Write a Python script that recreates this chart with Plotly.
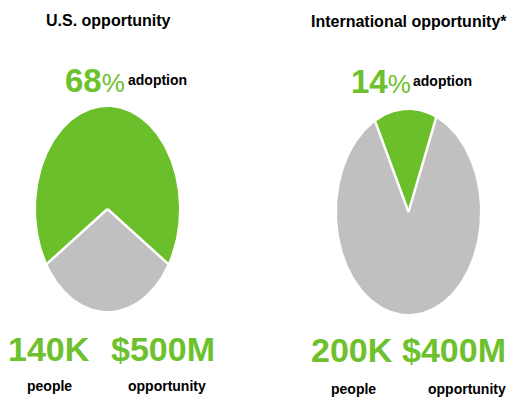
import numpy as np
import plotly.graph_objects as go

# ---- data ----
titles = ["U.S. opportunity", "International opportunity*"]
adoption_pct = [68, 14]
people_values = ["140K", "200K"]
opportunity_values = ["$500M", "$400M"]
people_label = "people"
opportunity_label = "opportunity"
adoption_label = "adoption"

# ---- style / layout constants ----
OFF = 8                      # page body margin of the browser
W, H = 517 - OFF, 400 - OFF  # figure size so the visible 517x400 window matches
RIGHT_LIMIT = 508            # last visible pixel column
GREEN = "#6BBF2A"
GREEN_TXT = "#6CC12C"
GRAY = "#C0C0C0"
FONT = "Liberation Sans, Arial, sans-serif"
rotations = [-122.4, -27.7]           # start angle of the adoption slice (deg, clockwise from top)
pie_boxes = [(36, 179, 107, 311), (337, 480, 110, 314)]   # pixel boxes of the pies (window coords)
# (x, anchor) per text, window pixels
text_cx = [
    dict(title=(108, "center"), pct=(94.5, "center"), adopt=(157, "center"),
         num1=(49, "center"), num2=(163, "center"), lab1=(49, "center"), lab2=(166.5, "center")),
    dict(title=(409, "center"), pct=(380.5, "center"), adopt=(442.5, "center"),
         num1=(352, "center"), num2=(RIGHT_LIMIT, "right"), lab1=(353.5, "center"),
         lab2=(RIGHT_LIMIT, "right")),
]
text_cy = [
    dict(title=20.5, pct=80, adopt=80, num=348.5, lab=385.5),
    dict(title=22, pct=81, adopt=81, num=350, lab=389),
]


def px_x(x):
    return (x - OFF) / W


def px_y(y):
    return 1 - (y - OFF) / H


fig = go.Figure()

for i, pct in enumerate(adoption_pct):
    xa = "x" if i == 0 else "x2"
    ya = "y" if i == 0 else "y2"
    values = [pct, 100 - pct]
    colors = [GREEN, GRAY]
    start = rotations[i]
    bounds = []
    for v, c in zip(values, colors):
        a0 = start
        a1 = start + v / 100.0 * 360.0
        t = np.radians(np.linspace(a0, a1, 240))
        xs = np.concatenate([[0], np.sin(t), [0]])
        ys = np.concatenate([[0], np.cos(t), [0]])
        fig.add_trace(go.Scatter(x=xs, y=ys, fill="toself", fillcolor=c, mode="lines",
                                 line=dict(width=0, color=c), xaxis=xa, yaxis=ya,
                                 hoverinfo="skip", showlegend=False))
        bounds.append(a0)
        start = a1
    for b in bounds:
        br = np.radians(b)
        fig.add_trace(go.Scatter(x=[0, np.sin(br) * 1.05], y=[0, np.cos(br) * 1.05], mode="lines",
                                 line=dict(width=2.5, color="white"), xaxis=xa, yaxis=ya,
                                 hoverinfo="skip", showlegend=False))


def dom(box):
    x0, x1, y0, y1 = box
    return [px_x(x0), px_x(x1)], [px_y(y1), px_y(y0)]


axis_common = dict(range=[-1, 1], visible=False, fixedrange=True, showgrid=False, zeroline=False)
xd0, yd0 = dom(pie_boxes[0])
xd1, yd1 = dom(pie_boxes[1])
fig.update_layout(
    xaxis=dict(domain=xd0, anchor="y", **axis_common),
    yaxis=dict(domain=yd0, anchor="x", **axis_common),
    xaxis2=dict(domain=xd1, anchor="y2", **axis_common),
    yaxis2=dict(domain=yd1, anchor="x2", **axis_common),
)

annotations = []


def add_text(text, pos, cy, size, color="black", bold=True):
    cx, anchor = pos
    annotations.append(dict(
        text=text, x=px_x(cx), y=px_y(cy), xref="paper", yref="paper",
        xanchor=anchor, yanchor="middle", showarrow=False,
        font=dict(family=FONT, size=size, color=color, weight="bold" if bold else "normal"),
    ))


for i in range(2):
    cx, cy = text_cx[i], text_cy[i]
    add_text(titles[i], cx["title"], cy["title"], 16)
    add_text(f"<b>{adoption_pct[i]}</b><span style='font-size:26px'>%</span>", cx["pct"], cy["pct"], 33,
             color=GREEN_TXT, bold=False)
    add_text(adoption_label, cx["adopt"], cy["adopt"], 14)
    add_text(people_values[i], cx["num1"], cy["num"], 34, color=GREEN_TXT)
    add_text(opportunity_values[i], cx["num2"], cy["num"], 34, color=GREEN_TXT)
    add_text(people_label, cx["lab1"], cy["lab"], 14)
    add_text(opportunity_label, cx["lab2"], cy["lab"], 14)

fig.update_layout(
    width=W, height=H,
    margin=dict(l=0, r=0, t=0, b=0),
    paper_bgcolor="white", plot_bgcolor="white",
    annotations=annotations,
    showlegend=False,
)

fig.write_html("out.html")
